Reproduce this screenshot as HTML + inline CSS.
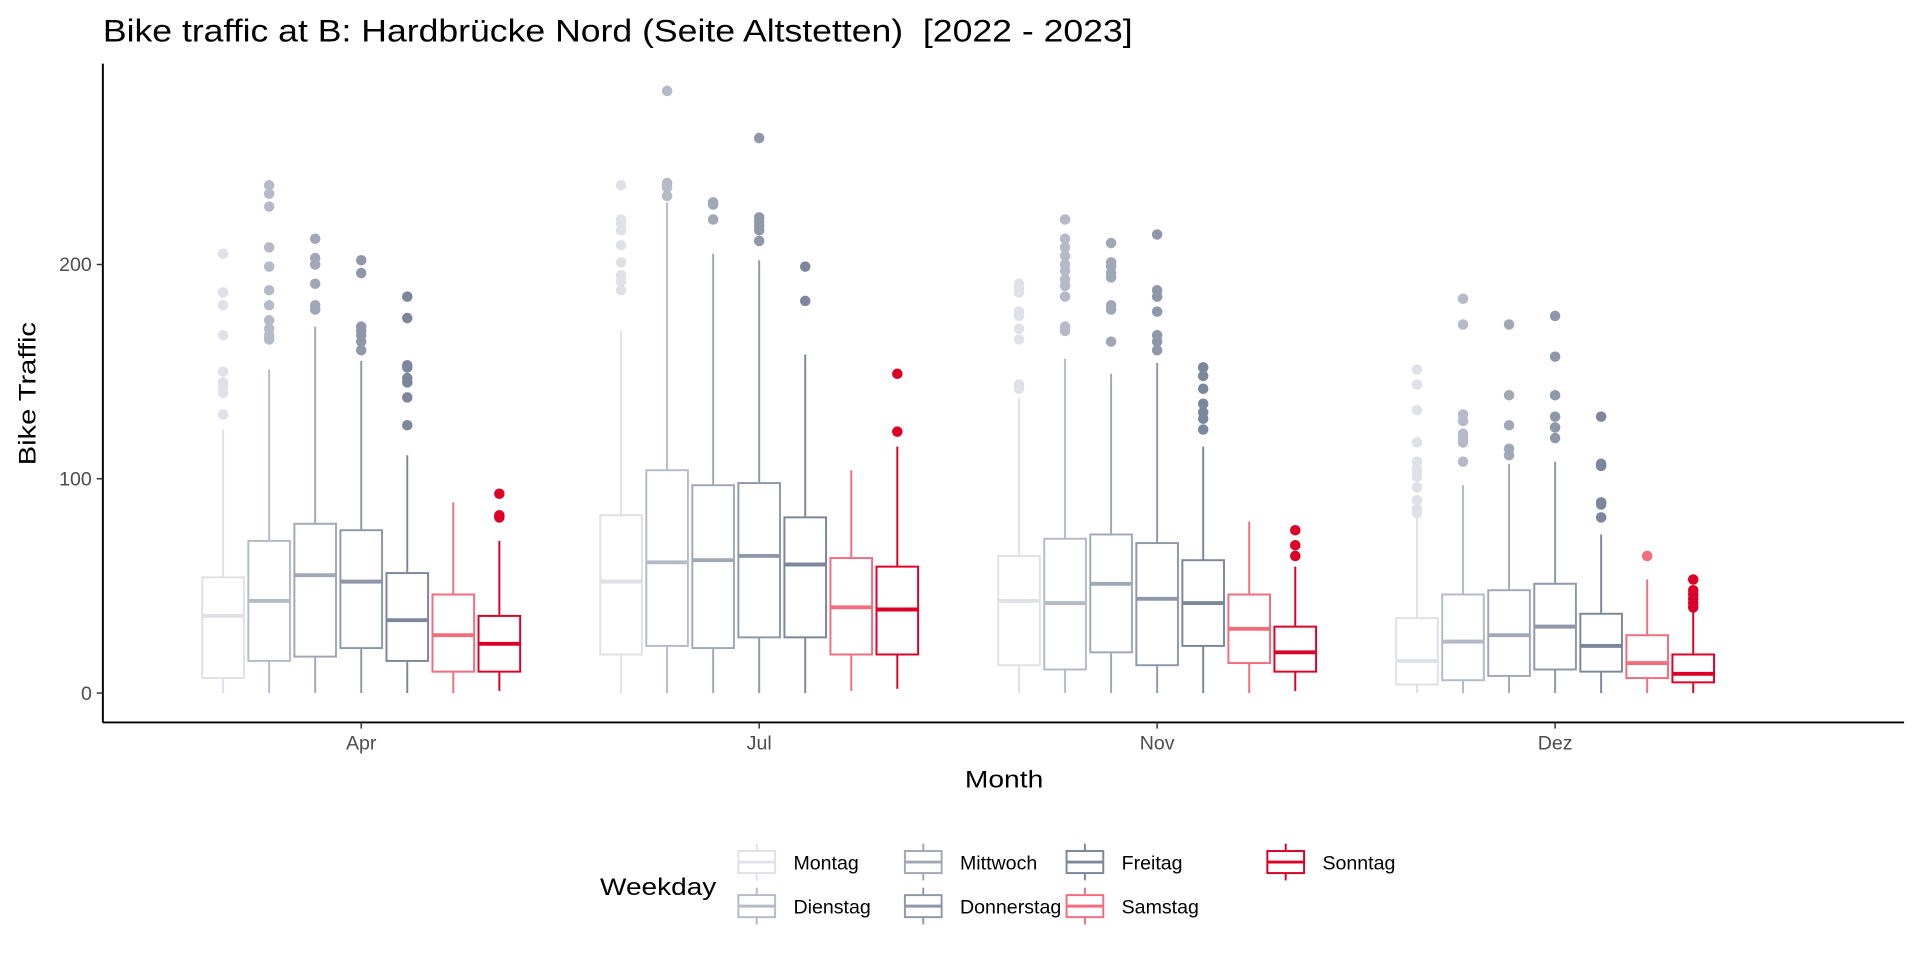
<!DOCTYPE html>
<html><head><meta charset="utf-8"><style>
html,body{margin:0;padding:0;background:#fff;}
svg{display:block;font-family:"Liberation Sans",sans-serif;}
</style></head><body>
<svg id="chart" width="1920" height="960" viewBox="0 0 1568 784" xmlns="http://www.w3.org/2000/svg">
<text x="84" y="34" font-size="26" fill="#000" xml:space="preserve" textLength="841" lengthAdjust="spacingAndGlyphs">Bike traffic at B: Hardbrücke Nord (Seite Altstetten)  [2022 - 2023]</text>
<g id="plot"></g>
<line x1="84" y1="52" x2="84" y2="590" stroke="#000" stroke-width="1.6"/>
<line x1="84" y1="590" x2="1555" y2="590" stroke="#000" stroke-width="1.6"/>
<g id="axes"></g>
<text x="788" y="643" font-size="20" textLength="64" lengthAdjust="spacingAndGlyphs">Month</text>
<text transform="translate(29,380) rotate(-90)" font-size="20" textLength="117" lengthAdjust="spacingAndGlyphs">Bike Traffic</text>
<g id="legend">
<text x="490" y="731" font-size="20" textLength="95" lengthAdjust="spacingAndGlyphs">Weekday</text>
</g>
</svg>
<script>
const months = ["Apr","Jul","Nov","Dez"];
const weekdays = ["Montag","Dienstag","Mittwoch","Donnerstag","Freitag","Samstag","Sonntag"];
const colors = ["#e0e1e8","#b4bac8","#a0a8b8","#8f98ab","#7d879c","#f26d7d","#dc0027"];
const yTicks = [0,100,200];
// [lowWhisker, q1, median, q3, highWhisker] per month per weekday
const statsApr = [[0,7,36,54,123],[0,15,43,71,151],[0,17,55,79,171],[0,21,52,76,155],[0,15,34,56,111],[0,10,27,46,89],[1,10,23,36,71]];
const statsJul = [[0,18,52,83,169],[0,22,61,104,229],[0,21,62,97,205],[0,26,64,98,202],[0,26,60,82,158],[1,18,40,63,104],[2,18,39,59,115]];
const statsNov = [[0,13,43,64,138],[0,11,42,72,156],[0,19,51,74,149],[0,13,44,70,154],[0,22,42,62,115],[0,14,30,46,80],[1,10,19,31,59]];
const statsDez = [[0,4,15,35,82],[0,6,24,46,97],[0,8,27,48,107],[0,11,31,51,108],[0,10,22,37,74],[0,7,14,27,53],[0,5,9,18,38]];
const outApr = [[130,140,143,145,150,167,181,187,205],[165,167,170,174,181,188,199,208,227,233,237],[179,181,191,200,203,212],[160,164,167,169,171,196,202],[125,138,145,147,152,153,175,185],[],[82,83,93]];
const outJul = [[188,192,195,201,209,216,219,221,237],[232,236,238,281],[221,228,229],[211,216,218,220,222,259],[183,199],[],[122,149]];
const outNov = [[142,144,165,170,176,178,187,189,191],[169,171,185,190,193,197,200,204,208,212,221],[164,179,181,194,196,199,201,210],[160,164,167,178,185,188,214],[123,128,131,135,142,148,152],[],[64,69,76]];
const outDez = [[84,86,90,96,101,103,105,108,117,132,144,151],[108,117,119,121,127,130,172,184],[111,114,125,139,172],[119,124,129,139,157,176],[82,88,89,106,107,129],[64],[40,42,44,46,48,53]];
const allStats = [statsApr,statsJul,statsNov,statsDez];
const allOut = [outApr,outJul,outNov,outDez];

const NS="http://www.w3.org/2000/svg";
const y = v => 566 - v*1.75;
const xMonth = i => 295 + i*325;
const xBox = (m,d) => xMonth(m) + (d-3)*37.6;
const BW = 34;
function mk(tag, attrs, parent){const e=document.createElementNS(NS,tag);for(const k in attrs)e.setAttribute(k,attrs[k]);parent.appendChild(e);return e;}
const plot=document.getElementById('plot'), axes=document.getElementById('axes'), legend=document.getElementById('legend');

yTicks.forEach(t=>{
  const l=mk('line',{x1:79,x2:84,y1:y(t),y2:y(t),stroke:'#333','stroke-width':1.2},axes);
  
  
  const tx=mk('text',{x:75,y:y(t)+5.5,'font-size':16,'text-anchor':'end',fill:'#4d4d4d'},axes);
  tx.textContent=t;
  
  
});
months.forEach((m,i)=>{
  const l=mk('line',{x1:xMonth(i),x2:xMonth(i),y1:590,y2:595,stroke:'#333','stroke-width':1.2},axes);
  
  
  const tx=mk('text',{x:xMonth(i),y:612,'font-size':16,'text-anchor':'middle',fill:'#4d4d4d'},axes);
  tx.textContent=m;
  
  
});

allStats.forEach((ms,mi)=>{
  ms.forEach((s,d)=>{
    const g=mk('g',{},plot);
    
    
    const cx=xBox(mi,d), c=colors[d];
    mk('line',{x1:cx,x2:cx,y1:y(s[0]),y2:y(s[1]),stroke:c,'stroke-width':1.6},g);
    mk('line',{x1:cx,x2:cx,y1:y(s[3]),y2:y(s[4]),stroke:c,'stroke-width':1.6},g);
    mk('rect',{x:cx-BW/2,y:y(s[3]),width:BW,height:y(s[1])-y(s[3]),fill:'#fff',stroke:c,'stroke-width':1.6},g);
    mk('line',{x1:cx-BW/2,x2:cx+BW/2,y1:y(s[2]),y2:y(s[2]),stroke:c,'stroke-width':3.2},g);
    allOut[mi][d].forEach(v=>{
      const p=mk('circle',{cx:cx,cy:y(v),r:4.3,fill:c},g);
      
      
    });
  });
});

const keyPos=[[602,704],[602,740],[738,704],[738,740],[870,704],[870,740],[1034,704]];
weekdays.forEach((w,i)=>{
  const [kx,ky]=keyPos[i], c=colors[i];
  const g=mk('g',{},legend);
  
  
  mk('line',{x1:kx+16,x2:kx+16,y1:ky-15,y2:ky+15,stroke:c,'stroke-width':1.6},g);
  mk('rect',{x:kx+1,y:ky-9,width:30,height:18,fill:'#fff',stroke:c,'stroke-width':1.6},g);
  mk('line',{x1:kx+1,x2:kx+31,y1:ky,y2:ky,stroke:c,'stroke-width':2.4},g);
  const t=mk('text',{x:kx+46,y:ky+6,'font-size':16,fill:'#000'},g);
  t.textContent=w;
});
</script>
</body></html>
